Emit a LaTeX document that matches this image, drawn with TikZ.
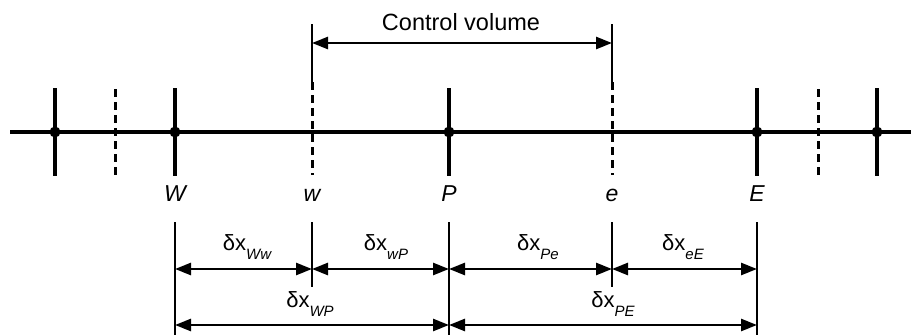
\documentclass[tikz,border=0pt]{standalone}
\usepackage{fontspec}
\setmainfont{Liberation Sans}
\usetikzlibrary{arrows.meta}
\tikzset{
  gridtick/.style={line width=3.6pt},
  facetick/.style={line width=2.4pt},
  faceline/.style={line width=3pt, dash pattern=on 8pt off 5pt},
  dimline/.style={line width=2.3pt},
  dimarrow/.style={line width=2.6pt, {Triangle[length=16pt,width=12pt]}-{Triangle[length=16pt,width=12pt]}},
  ptlabel/.style={font=\fontsize{23}{23}\selectfont\itshape, anchor=base, inner sep=0pt},
  dlabel/.style={font=\fontsize{22}{22}\selectfont, anchor=base, inner sep=0pt},
  dot/.style={circle, fill=black, inner sep=0pt, minimum size=11pt}
}
\newcommand{\dsub}[1]{\raisebox{-0.85ex}{\fontsize{15}{15}\selectfont\itshape #1}}
\begin{document}
\begin{tikzpicture}[x=1pt,y=-1pt]
\useasboundingbox (0,0) rectangle (911,335);
% main line
\coordinate (L) at (10,132);
\coordinate (R) at (911,132);
\draw[line width=3.6pt] (L) -- (R);
% grid nodes
\foreach \n/\x in {g1/55, W/175, P/449, E/757, g2/877}{
  \coordinate (\n t) at (\x,88);
  \coordinate (\n b) at (\x,176);
  \draw[gridtick] (\n t) -- (\n b);
  \node[dot] (\n) at (\x,132) {};
}
% outer faces
\foreach \n/\x in {f1/115, f2/818}{
  \coordinate (\n t) at (\x,89);
  \coordinate (\n b) at (\x,175);
  \draw[faceline] (\n t) -- (\n b);
}
% w and e faces
\foreach \n/\x in {w/312, e/612}{
  \coordinate (\n top) at (\x,24);
  \coordinate (\n m) at (\x,82);
  \coordinate (\n b) at (\x,175);
  \draw[facetick] (\n top) -- (\n m);
  \draw[faceline] (\n m) -- (\n b);
}
% control volume
\coordinate (cvw) at (312,43);
\coordinate (cve) at (612,43);
\draw[dimarrow] (cvw) -- (cve);
\node[font=\fontsize{23.5}{23.5}\selectfont, anchor=base] (cv) at (461,30) {Control volume};
% point labels
\node[ptlabel] (lW) at (175,201) {W};
\node[ptlabel] (lw) at (312,201) {w};
\node[ptlabel] (lP) at (449,201) {P};
\node[ptlabel] (le) at (612,201) {e};
\node[ptlabel] (lE) at (757,201) {E};
% dimension verticals
\foreach \n/\x in {W/175, P/449, E/757}{
  \coordinate (d\n t) at (\x,222);
  \coordinate (d\n b) at (\x,335);
  \draw[dimline] (d\n t) -- (d\n b);
}
\foreach \n/\x in {w/312, e/612}{
  \coordinate (d\n t) at (\x,222);
  \coordinate (d\n b) at (\x,287);
  \draw[dimline] (d\n t) -- (d\n b);
}
% row 1 arrows
\coordinate (aW) at (175,269);
\coordinate (aw) at (312,269);
\coordinate (aP) at (449,269);
\coordinate (ae) at (612,269);
\coordinate (aE) at (757,269);
\draw[dimarrow] (aW) -- (aw);
\draw[dimarrow] (aw) -- (aP);
\draw[dimarrow] (aP) -- (ae);
\draw[dimarrow] (ae) -- (aE);
% row 2 arrows
\coordinate (bW) at (175,325);
\coordinate (bP) at (449,325);
\coordinate (bE) at (757,325);
\draw[dimarrow] (bW) -- (bP);
\draw[dimarrow] (bP) -- (bE);
% dimension labels
\node[dlabel] (xWw) at (247,250) {δx\dsub{Ww}};
\node[dlabel] (xwP) at (386,250) {δx\dsub{wP}};
\node[dlabel] (xPe) at (538,250) {δx\dsub{Pe}};
\node[dlabel] (xeE) at (683,250) {δx\dsub{eE}};
\node[dlabel] (xWP) at (310,307) {δx\dsub{WP}};
\node[dlabel] (xPE) at (613,307) {δx\dsub{PE}};
\end{tikzpicture}
\end{document}
